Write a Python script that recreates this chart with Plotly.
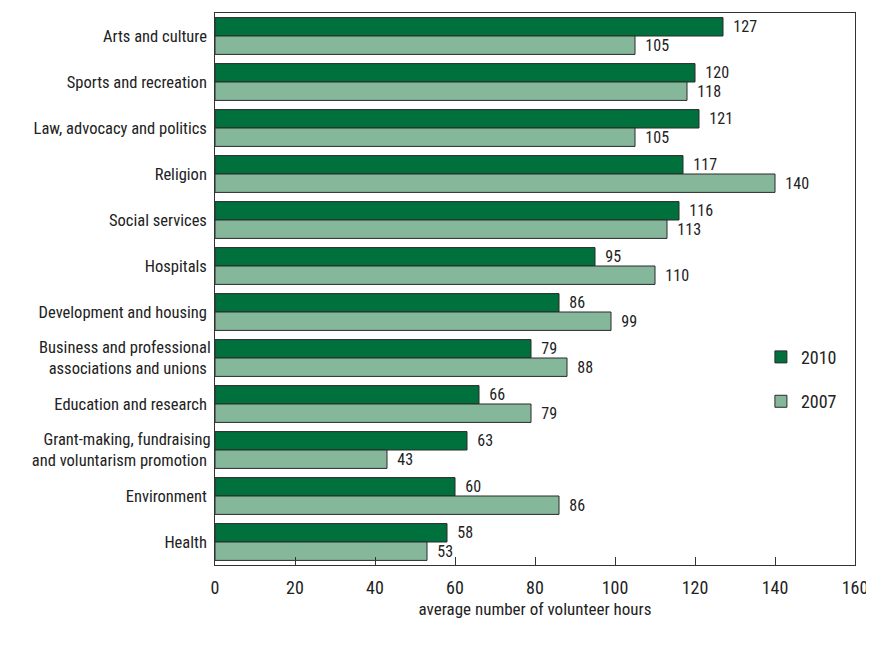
import plotly.graph_objects as go

categories = ["Arts and culture", "Sports and recreation", "Law, advocacy and politics",
              "Religion", "Social services", "Hospitals", "Development and housing",
              "Business and professional<br>associations and unions", "Education and research",
              "Grant-making, fundraising<br>and voluntarism promotion", "Environment", "Health"]
values_2010 = [127, 120, 121, 117, 116, 95, 86, 79, 66, 63, 60, 58]
values_2007 = [105, 118, 105, 140, 113, 110, 99, 88, 79, 43, 86, 53]
x_ticks = [0, 20, 40, 60, 80, 100, 120, 140, 160]

FONT = "Roboto Condensed, DejaVu Sans Condensed, sans-serif"

fig = go.Figure()
fig.add_trace(go.Bar(
    y=categories, x=values_2010, orientation="h", name="2010",
    marker=dict(color="#00703C", line=dict(color="#2a2a2a", width=1)),
    texttemplate="\u00a0\u00a0%{x}", textposition="outside",
    textfont=dict(size=16, color="#222"), cliponaxis=False, legendgroup="a"))
fig.add_trace(go.Bar(
    y=categories, x=values_2007, orientation="h", name="2007",
    marker=dict(color="#85B79A", line=dict(color="#2a2a2a", width=1)),
    texttemplate="\u00a0\u00a0%{x}", textposition="outside",
    textfont=dict(size=16, color="#222"), cliponaxis=False, legendgroup="b"))

fig.update_layout(
    width=866, height=640,
    margin=dict(l=207, r=19, t=5, b=83),
    paper_bgcolor="white", plot_bgcolor="white",
    font=dict(family=FONT, size=17, color="#222"),
    barmode="group", bargap=0.2, bargroupgap=0,
    legend=dict(x=0.853, y=0.41, xanchor="left", yanchor="top",
                traceorder="grouped", tracegroupgap=18,
                font=dict(size=18), bgcolor="rgba(0,0,0,0)"),
    xaxis=dict(range=[0, 160], tickvals=x_ticks, ticks="inside", ticklen=8,
               tickcolor="#333", showgrid=False, zeroline=False,
               showline=True, linecolor="#333", linewidth=1, mirror=True,
               tickfont=dict(size=18), automargin=False, ticklabelstandoff=6,
               title=dict(text="average number of volunteer hours", font=dict(size=17), standoff=6)),
    yaxis=dict(autorange="reversed", showgrid=False, showline=True, linecolor="#333",
               linewidth=1, mirror=True, ticks="", tickfont=dict(size=16.5),
               ticksuffix=" ", automargin=False),
    uniformtext=dict(minsize=16, mode="show"),
)

fig.write_html("out.html")
